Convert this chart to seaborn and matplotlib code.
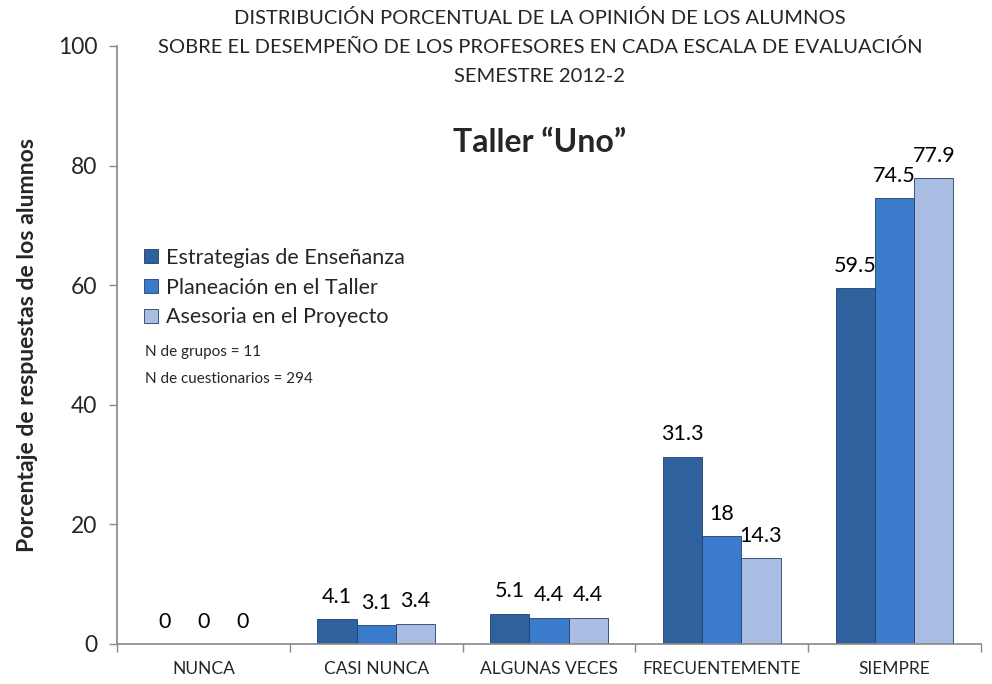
import matplotlib
matplotlib.use("Agg")
import matplotlib.pyplot as plt
import seaborn as sns
import pandas as pd
from matplotlib.patches import Patch

categories = ["NUNCA", "CASI NUNCA", "ALGUNAS VECES", "FRECUENTEMENTE", "SIEMPRE"]
series_names = ["Estrategias de Enseñanza", "Planeación en el Taller", "Asesoria en el Proyecto"]
estrategias = [0, 4.1, 5.1, 31.3, 59.5]
planeacion = [0, 3.1, 4.4, 18, 74.5]
asesoria = [0, 3.4, 4.4, 14.3, 77.9]
labels_txt = [["0", "4.1", "5.1", "31.3", "59.5"],
              ["0", "3.1", "4.4", "18", "74.5"],
              ["0", "3.4", "4.4", "14.3", "77.9"]]
colors = ["#30619F", "#3B7BCB", "#A9BDE3"]

rows = []
for name, vals in zip(series_names, [estrategias, planeacion, asesoria]):
    for c, v in zip(categories, vals):
        rows.append({"cat": c, "serie": name, "val": v})
df = pd.DataFrame(rows)

sns.set_theme(style="white")
plt.rcParams["font.family"] = ["Lato", "DejaVu Sans"]

fig = plt.figure(figsize=(9.92, 6.84), dpi=100)
ax = fig.add_axes([117/992, 40/684, 864/992, 598/684])

sns.barplot(data=df, x="cat", y="val", hue="serie", order=categories,
            hue_order=series_names, palette=colors, width=0.68,
            saturation=1, ax=ax, legend=False, edgecolor="#1F3F6A", linewidth=0.6)

for i, cont in enumerate(ax.containers):
    ax.bar_label(cont, labels=labels_txt[i], padding=9, fontsize=15.5, color="black")

ax.set_xlim(-0.5, 4.5)
ax.set_ylim(0, 100)
ax.set_yticks([0, 20, 40, 60, 80, 100])
ax.tick_params(axis="y", labelsize=16.5, length=6, width=1, color="#888888",
               direction="out", pad=8, left=True)
ax.set_xticks(range(len(categories)))
ax.set_xticklabels(categories, fontsize=12.5)
ax.tick_params(axis="x", length=0, pad=12)
ax.set_xticks([-0.5 + k for k in range(6)], minor=True)
ax.tick_params(axis="x", which="minor", length=6, width=1, color="#888888",
               direction="out", bottom=True)
ax.set_xlabel("")
ax.set_ylabel("Porcentaje de respuestas de los alumnos", fontsize=16.6,
              fontweight="bold")
ax.yaxis.set_label_coords(-0.0914, 0.5)
for s in ["top", "right"]:
    ax.spines[s].set_visible(False)
for s in ["left", "bottom"]:
    ax.spines[s].set_color("#888888")
    ax.spines[s].set_linewidth(1.2)

fig.text(540/992, 1 - 18/684, "DISTRIBUCIÓN PORCENTUAL DE LA OPINIÓN DE LOS ALUMNOS",
         ha="center", va="center", fontsize=14.5)
fig.text(540/992, 1 - 47/684, "SOBRE EL DESEMPEÑO DE LOS PROFESORES EN CADA ESCALA DE EVALUACIÓN",
         ha="center", va="center", fontsize=14.5)
fig.text(540/992, 1 - 76/684, "SEMESTRE 2012-2", ha="center", va="center", fontsize=14.5)
fig.text(540/992, 1 - 142/684, "Taller \u201cUno\u201d", ha="center", va="center",
         fontsize=23, fontweight="bold")

handles = [Patch(facecolor=c, edgecolor="#1F3F6A", linewidth=0.6) for c in colors]
ax.legend(handles, series_names, loc="upper left", bbox_to_anchor=(135/992, 1 - 239/684),
          bbox_transform=fig.transFigure, frameon=False, fontsize=15.5,
          handlelength=0.65, handleheight=0.65, handletextpad=0.4, labelspacing=0.46,
          borderaxespad=0)
fig.text(145/992, 1 - 352/684, "N de grupos = 11", ha="left", va="center", fontsize=11)
fig.text(145/992, 1 - 379/684, "N de cuestionarios = 294", ha="left", va="center", fontsize=11)

fig.savefig("out.png", dpi=100)
